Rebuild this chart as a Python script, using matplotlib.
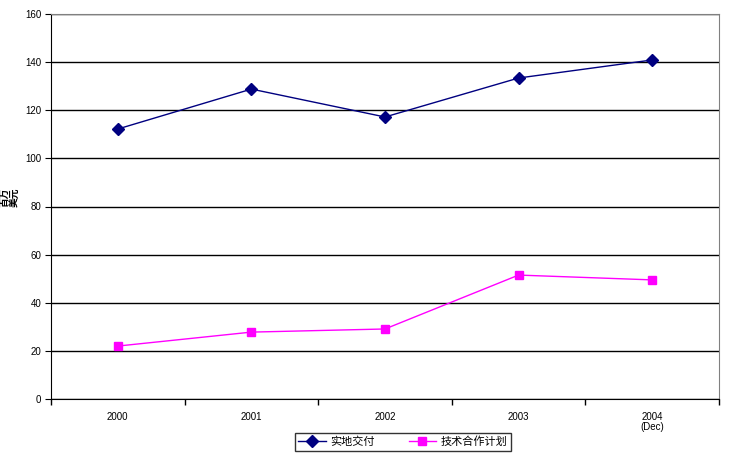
import numpy as np
import matplotlib.pyplot as plt

plt.rcParams['font.family'] = ['Liberation Sans', 'Noto Sans CJK SC', 'DejaVu Sans']

years = ['2000', '2001', '2002', '2003', '2004\n(Dec)']
field = [112.2, 128.8, 117.2, 133.4, 140.9]      # 实地交付
tc = [22.0, 27.8, 29.1, 51.5, 49.5]              # 技术合作计划

fig = plt.figure(figsize=(7.55, 4.63), dpi=100)
ax = fig.add_axes([51/755, 1-399/463, 668/755, 385/463])

x = np.arange(len(years)) + 0.5
ax.plot(x, field, color='#000080', lw=1, marker='D', ms=6, label='实地交付')
ax.plot(x, tc, color='#ff00ff', lw=1, marker='s', ms=6, label='技术合作计划')

ax.set_xlim(0, len(years))
ax.set_ylim(0, 160)
ax.set_yticks(np.arange(0, 161, 20))
ax.yaxis.grid(True, color='black', lw=1)
ax.set_axisbelow(True)

# category labels centred, ticks at boundaries
ax.set_xticks(np.arange(len(years) + 1))
ax.set_xticklabels([])
ax.set_xticks(x, minor=True)
ax.set_xticklabels(years, minor=True, fontsize=7, linespacing=1.1)
ax.tick_params(axis='x', which='minor', length=0, pad=9)
ax.tick_params(axis='x', which='major', length=4, width=1, color='black')
ax.tick_params(axis='y', length=4, labelsize=7, pad=3)

for s in ['top', 'right']:
    ax.spines[s].set_color('#808080')
for s in ['left', 'bottom']:
    ax.spines[s].set_color('black')

fig.text(0.013, 1-197/463, '百万\n美元', rotation=90, fontsize=7, fontweight='bold',
         ha='center', va='center', linespacing=1.0)

leg = ax.legend(loc='center', bbox_to_anchor=(403/755, 1-442/463), bbox_transform=fig.transFigure,
                ncol=2, fontsize=8, frameon=True, fancybox=False, edgecolor='black',
                handlelength=2.5, columnspacing=3, borderpad=0.3, handletextpad=0.4)
leg.get_frame().set_linewidth(1)

fig.savefig('out.png', dpi=100)
